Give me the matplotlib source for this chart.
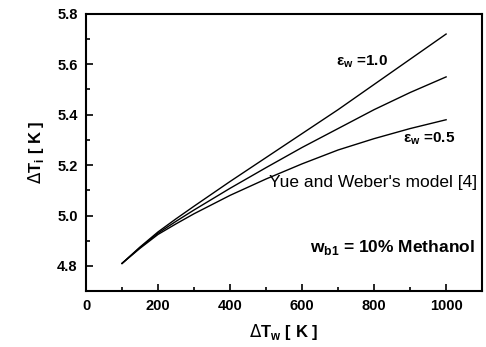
import numpy as np
import matplotlib
matplotlib.use("Agg")
import matplotlib.pyplot as plt
from matplotlib.ticker import MultipleLocator

plt.rcParams['font.family'] = ['Liberation Sans', 'DejaVu Sans']

# wall superheat [K]
dTw = [100, 150, 200, 250, 300, 400, 500, 600, 700, 800, 900, 1000]
# interface temperature difference [K]
eps_10 = [4.81, 4.875, 4.935, 4.987, 5.037, 5.135, 5.23, 5.325, 5.42, 5.52, 5.62, 5.72]
yue_weber = [4.81, 4.873, 4.93, 4.977, 5.022, 5.108, 5.19, 5.27, 5.345, 5.42, 5.488, 5.55]
eps_05 = [4.81, 4.87, 4.925, 4.967, 5.007, 5.08, 5.145, 5.205, 5.26, 5.305, 5.345, 5.38]

fig = plt.figure(figsize=(4.86, 3.47), dpi=100)
ax = fig.add_axes([0.177, 0.161, 0.815, 0.799])

for y in (eps_10, yue_weber, eps_05):
    ax.plot(dTw, y, color='black', lw=1.0)

ax.set_xlim(0, 1100)
ax.set_ylim(4.7, 5.8)
ax.xaxis.set_major_locator(MultipleLocator(200))
ax.xaxis.set_minor_locator(MultipleLocator(100))
ax.yaxis.set_major_locator(MultipleLocator(0.2))
ax.yaxis.set_minor_locator(MultipleLocator(0.1))
ax.set_xticks([0, 200, 400, 600, 800, 1000])
ax.tick_params(which='both', direction='in', width=1.2)
ax.tick_params(which='major', length=5, labelsize=10.5, pad=6)
ax.tick_params(which='minor', length=3)
for lab in ax.get_xticklabels() + ax.get_yticklabels():
    lab.set_fontweight('bold')
for s in ax.spines.values():
    s.set_linewidth(1.5)

ax.set_xlabel(r'$\Delta$T$_{\mathregular{w}}$ [ K ]', fontsize=12, fontweight='bold', labelpad=6)
ax.set_ylabel(r'$\Delta$T$_{\mathregular{i}}$ [ K ]', fontsize=12, fontweight='bold', labelpad=8)

ax.text(695, 5.61, r'ε$_{\mathregular{w}}$ =1.0', fontsize=11, va='center', fontweight='bold')
ax.text(880, 5.305, r'ε$_{\mathregular{w}}$ =0.5', fontsize=11, va='center', fontweight='bold')
ax.text(1085, 5.13, "Yue and Weber's model [4]", fontsize=12.5, ha='right', va='center')
ax.text(1080, 4.875, r'w$_{\mathregular{b1}}$ = 10% Methanol', fontsize=12.5,
        ha='right', va='center', fontweight='bold')

plt.savefig('out.png', dpi=100)
